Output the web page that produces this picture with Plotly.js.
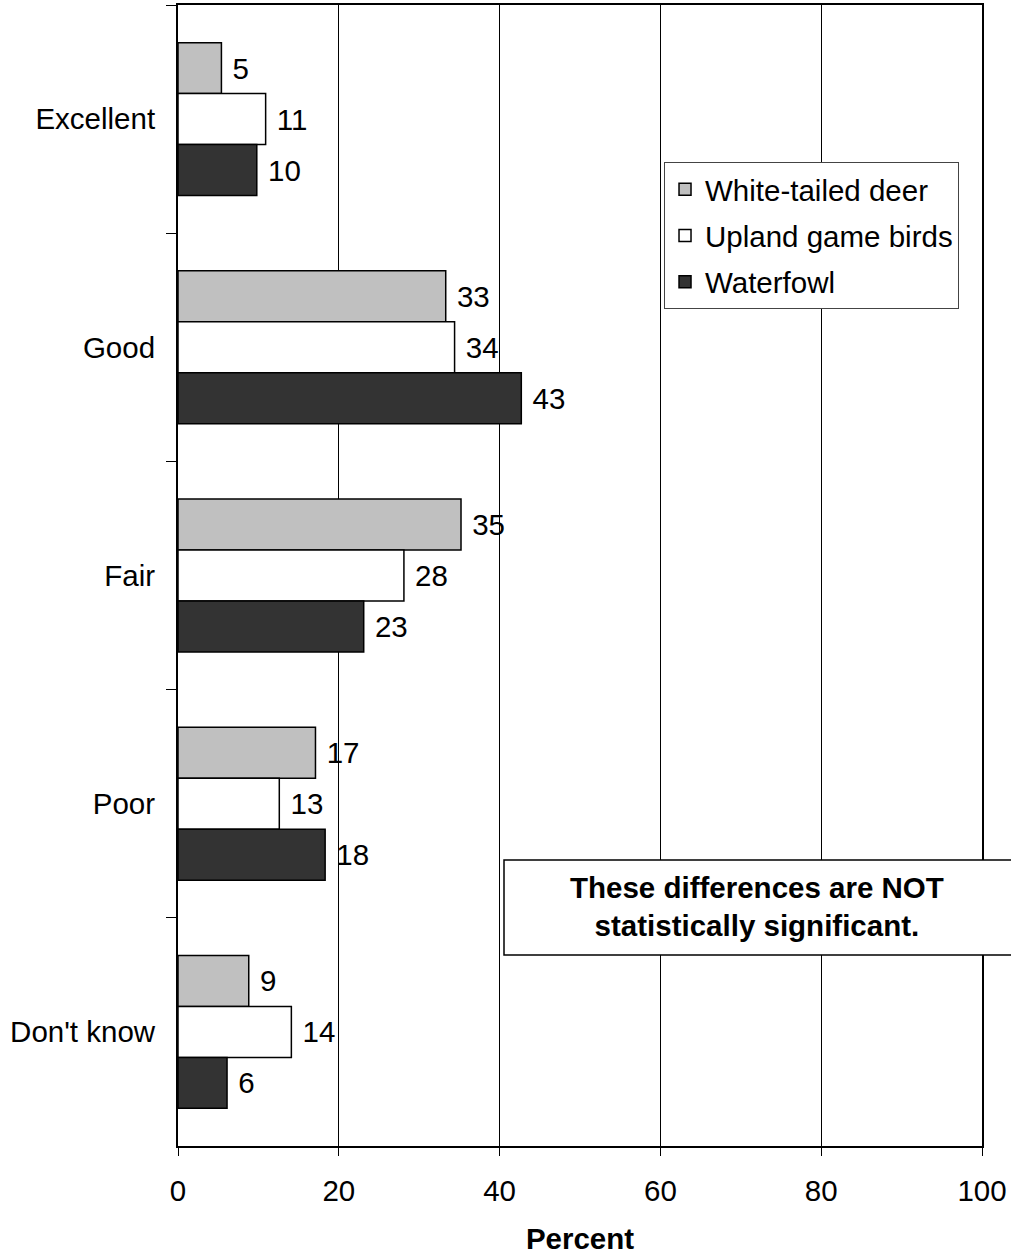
<!DOCTYPE html>
<html>
<head>
<meta charset="utf-8">
<script src="https://cdn.plot.ly/plotly-3.0.1.min.js"></script>
<style>
  html, body { margin: 0; padding: 0; background: #fff; }
  #chart { width: 1011px; height: 1255px; }
</style>
</head>
<body>
<div id="chart"></div>
<script>
const categories = ["Excellent", "Good", "Fair", "Poor", "Don't know"];
const deer = [5.4, 33.3, 35.2, 17.1, 8.8];
const upland = [10.9, 34.4, 28.1, 12.6, 14.1];
const waterfowl = [9.8, 42.7, 23.1, 18.3, 6.1];
const seriesNames = ["White-tailed deer", "Upland game birds", "Waterfowl"];
const xTicks = [0, 20, 40, 60, 80, 100];
const noteText = "These differences are NOT<br>statistically significant.";

const FONT = "Liberation Sans, Arial, sans-serif";
const FS = 29.5;
const colors = ["#c0c0c0", "#ffffff", "#333333"];
const seriesValues = [deer, upland, waterfowl];

const traces = seriesValues.map((vals, i) => ({
  type: "bar",
  orientation: "h",
  name: seriesNames[i],
  legendgroup: "g" + i,
  y: categories,
  x: vals,
  texttemplate: "\u00a0%{x:.0f}",
  textposition: "outside",
  textfont: { family: FONT, size: FS, color: "#000" },
  constraintext: "none",
  cliponaxis: false,
  marker: { color: colors[i], line: { color: "#000", width: 1.5 } },
  hoverinfo: "skip"
}));

const layout = {
  width: 1011,
  height: 1255,
  margin: { l: 178, r: 29, t: 5, b: 109 },
  paper_bgcolor: "#fff",
  plot_bgcolor: "#fff",
  font: { family: FONT, size: FS, color: "#000" },
  barmode: "group",
  bargap: 0.33,
  bargroupgap: 0,
  showlegend: true,
  legend: {
    x: 0.6045, y: 0.862, xanchor: "left", yanchor: "top",
    bgcolor: "#fff", bordercolor: "#444", borderwidth: 1,
    font: { family: FONT, size: FS, color: "#000" },
    traceorder: "grouped",
    tracegroupgap: 5,
    itemwidth: 30
  },
  xaxis: {
    range: [0, 100],
    tickvals: xTicks,
    ticktext: xTicks.map(String),
    showgrid: true, gridcolor: "#000", gridwidth: 1,
    zeroline: false,
    showline: true, linecolor: "#000", linewidth: 2, mirror: true,
    ticks: "outside", ticklen: 8, tickcolor: "#000", tickwidth: 1,
    ticklabelstandoff: 10,
    tickfont: { family: FONT, size: FS },
    title: { text: "<b>Percent</b>", font: { family: FONT, size: FS }, standoff: 30 },
    automargin: false,
    fixedrange: true
  },
  yaxis: {
    type: "category",
    categoryorder: "array",
    categoryarray: categories,
    autorange: "reversed",
    tickson: "boundaries",
    ticks: "outside", ticklen: 10, tickcolor: "#000", tickwidth: 1,
    ticklabelstandoff: 15,
    showgrid: false, zeroline: false,
    showline: true, linecolor: "#000", linewidth: 2, mirror: true,
    tickfont: { family: FONT, size: FS },
    automargin: false,
    fixedrange: true
  },
  shapes: [{
    type: "rect", xref: "paper", yref: "paper",
    x0: (504 - 178) / 804, x1: 1.06,
    y0: (1146 - 955) / 1141, y1: (1146 - 860) / 1141,
    fillcolor: "#fff", line: { color: "#000", width: 1.5 },
    layer: "above"
  }],
  annotations: [{
    xref: "paper", yref: "paper",
    x: (757 - 178) / 804, y: (1146 - 907) / 1141,
    xanchor: "center", yanchor: "middle",
    text: "<b>" + noteText + "</b>",
    showarrow: false,
    align: "center",
    font: { family: FONT, size: FS, color: "#000" }
  }]
};

Plotly.newPlot("chart", traces, layout, { displayModeBar: false, staticPlot: true });
</script>
</body>
</html>
